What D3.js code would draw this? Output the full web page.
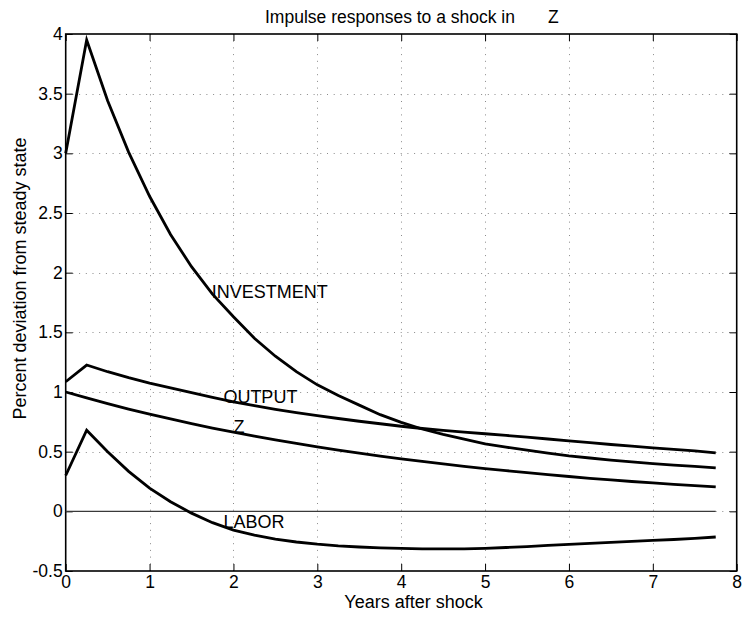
<!DOCTYPE html>
<html>
<head>
<meta charset="utf-8">
<script src="https://cdn.jsdelivr.net/npm/d3@7"></script>
<style>
  html, body { margin: 0; padding: 0; background: #fff; }
  svg { display: block; }
  text { font-family: "Liberation Sans", Arial, Helvetica, sans-serif; fill: #000; }
</style>
</head>
<body>
<svg id="chart" width="744" height="619"></svg>
<script>
// Quarterly horizon, in years after the shock
const years = [0, 0.25, 0.5, 0.75, 1, 1.25, 1.5, 1.75, 2, 2.25, 2.5, 2.75, 3, 3.25, 3.5, 3.75,
               4, 4.25, 4.5, 4.75, 5, 5.25, 5.5, 5.75, 6, 6.25, 6.5, 6.75, 7, 7.25, 7.5, 7.75];

// Percent deviation from steady state
const investment = [3.00, 3.95, 3.44, 3.01, 2.64, 2.32, 2.05, 1.82, 1.63, 1.45, 1.30, 1.17, 1.06, 0.97, 0.89, 0.81,
                    0.745, 0.69, 0.645, 0.605, 0.565, 0.538, 0.512, 0.487, 0.464, 0.447, 0.430, 0.415, 0.400, 0.388, 0.376, 0.365];
const output = [1.086, 1.226, 1.170, 1.120, 1.075, 1.035, 0.995, 0.955, 0.918, 0.885, 0.855, 0.828, 0.802, 0.778, 0.755, 0.734,
                0.713, 0.694, 0.678, 0.664, 0.650, 0.636, 0.621, 0.606, 0.590, 0.575, 0.560, 0.546, 0.532, 0.520, 0.507, 0.490];
const zShock = [1.000, 0.950, 0.903, 0.857, 0.815, 0.774, 0.735, 0.698, 0.663, 0.630, 0.599, 0.569, 0.540, 0.513, 0.488, 0.463,
                0.440, 0.418, 0.397, 0.377, 0.358, 0.341, 0.324, 0.307, 0.292, 0.277, 0.264, 0.250, 0.238, 0.226, 0.215, 0.205];
const labor = [0.30, 0.68, 0.50, 0.335, 0.195, 0.08, -0.015, -0.095, -0.158, -0.200, -0.232, -0.257, -0.275, -0.289, -0.299, -0.306,
               -0.311, -0.314, -0.315, -0.314, -0.310, -0.303, -0.295, -0.286, -0.277, -0.268, -0.260, -0.252, -0.244, -0.236, -0.227, -0.215];
const zeroLine = years.map(() => 0);

// Curve labels, anchored in data coordinates (left edge, vertical middle)
const labelNames = ["INVESTMENT", "OUTPUT", "Z", "LABOR"];
const labelX = [1.74, 1.88, 2.0, 1.88];
const labelY = [1.84, 0.96, 0.71, -0.086];

const xTicks = [0, 1, 2, 3, 4, 5, 6, 7, 8];
const yTicks = [-0.5, 0, 0.5, 1, 1.5, 2, 2.5, 3, 3.5, 4];

const svg = d3.select("#chart");
const plotLeft = 65.7, plotRight = 736.7, plotTop = 34, plotBottom = 571;
const x = d3.scaleLinear().domain([0, 8]).range([plotLeft, plotRight]);
const y = d3.scaleLinear().domain([-0.5, 4]).range([plotBottom, plotTop]);
const fs = 17.5;     // tick labels and title
const fsLab = 18;    // axis titles and curve labels

// Dotted grid
const grid = svg.append("g").attr("stroke", "#8a8a8a").attr("stroke-width", 1)
  .attr("stroke-dasharray", "1,5.7").attr("fill", "none");
xTicks.slice(1, -1).forEach(t => {
  grid.append("line").attr("x1", Math.round(x(t)) + 0.5).attr("x2", Math.round(x(t)) + 0.5)
    .attr("y1", plotTop).attr("y2", plotBottom);
});
yTicks.slice(1, -1).forEach(t => {
  grid.append("line").attr("y1", Math.round(y(t)) + 0.5).attr("y2", Math.round(y(t)) + 0.5)
    .attr("x1", plotLeft).attr("x2", plotRight);
});

// Axes on all four sides, ticks pointing inward
const tickLen = 7;
const axB = svg.append("g").attr("transform", `translate(0,${plotBottom})`)
  .call(d3.axisBottom(x).tickValues(xTicks).tickSizeInner(-tickLen).tickSizeOuter(0).tickPadding(5).tickFormat(d3.format("d")));
const axT = svg.append("g").attr("transform", `translate(0,${plotTop})`)
  .call(d3.axisTop(x).tickValues(xTicks).tickSizeInner(-tickLen).tickSizeOuter(0).tickFormat(""));
const axL = svg.append("g").attr("transform", `translate(${plotLeft},0)`)
  .call(d3.axisLeft(y).tickValues(yTicks).tickSizeInner(-tickLen).tickSizeOuter(0).tickPadding(3).tickFormat(d => String(d)));
const axR = svg.append("g").attr("transform", `translate(${plotRight},0)`)
  .call(d3.axisRight(y).tickValues(yTicks).tickSizeInner(-tickLen).tickSizeOuter(0).tickFormat(""));

[axB, axT, axL, axR].forEach(a => {
  a.select(".domain").remove();
  a.selectAll("line").attr("stroke", "#000").attr("stroke-width", 1);
  a.selectAll("text").style("font-size", fs + "px").attr("fill", "#000")
    .style("font-family", '"Liberation Sans", Arial, Helvetica, sans-serif');
});
axB.selectAll("text").attr("dy", "0.71em");

// Axis box
svg.append("rect").attr("x", plotLeft).attr("y", plotTop)
  .attr("width", plotRight - plotLeft).attr("height", plotBottom - plotTop)
  .attr("fill", "none").attr("stroke", "#000").attr("stroke-width", 1.6);

// Zero reference line
const line = d3.line().x((d, i) => x(years[i])).y(d => y(d));
svg.append("path").datum(zeroLine).attr("d", line).attr("fill", "none")
  .attr("stroke", "#3a3a3a").attr("stroke-width", 1.2);

// Response curves
[investment, output, zShock, labor].forEach(series => {
  svg.append("path").datum(series).attr("d", line).attr("fill", "none")
    .attr("stroke", "#000").attr("stroke-width", 2.8).attr("stroke-linejoin", "miter");
});

// Curve labels
labelNames.forEach((name, i) => {
  svg.append("text").attr("x", x(labelX[i])).attr("y", y(labelY[i])).attr("dy", "0.36em")
    .style("font-size", fsLab + "px").text(name);
});

// Title (the shocked variable is set apart on the right) and axis titles
const title = svg.append("text").attr("y", 23).style("font-size", fs + "px");
title.append("tspan").attr("x", 265).text("Impulse responses to a shock in");
title.append("tspan").attr("x", 548).text("Z");
svg.append("text").attr("x", 413.5).attr("y", 608).attr("text-anchor", "middle")
  .style("font-size", fsLab + "px").text("Years after shock");
svg.append("text").attr("transform", "translate(26,278.5) rotate(-90)")
  .attr("text-anchor", "middle").style("font-size", fsLab + "px").text("Percent deviation from steady state");
</script>
</body>
</html>
